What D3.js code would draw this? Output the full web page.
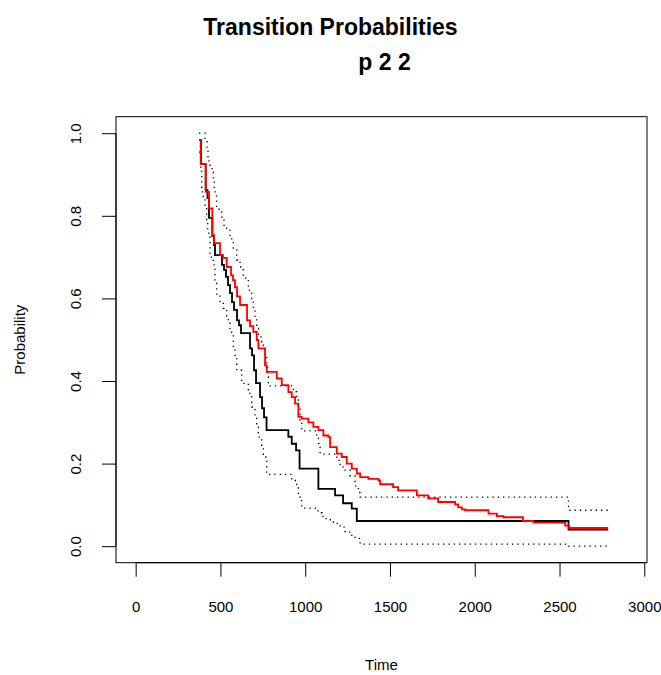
<!DOCTYPE html>
<html lang="en">
<head>
  <meta charset="UTF-8">
  <title>Transition Probabilities p 2 2</title>
  <style>
    body { margin: 0; background: #fff; }
    svg { font-family: "Liberation Sans", Arial, sans-serif; }
    .title { font-weight: bold; font-size: 23px; }
    .tick-label, .axis-title { font-size: 15px; }
  </style>
</head>
<body>
  <svg id="chart"></svg>

  <script src="https://d3js.org/d3.v7.min.js"></script>
  <script>
    // Aalen-Johansen style estimate (black), its CI (dotted), and comparison (red)
    const blackTime = [373.6, 385.4, 413.1, 423.7, 432.6, 452.1, 462.1, 468, 509.3, 521.1, 532.9, 544.7,
      556.5, 568.3, 580.1, 597.8, 609.6, 621.4, 674.6, 686.4, 698.2, 710, 733.6, 745.4, 757.2, 772,
      900.6, 920.7, 946.1, 966.7, 1077.7, 1176.2, 1223.4, 1274.8, 1304.3, 2553];
    const blackProb = [0.984, 0.926, 0.862, 0.843, 0.795, 0.751, 0.729, 0.705, 0.681, 0.669, 0.652, 0.632,
      0.613, 0.591, 0.572, 0.547, 0.535, 0.516, 0.479, 0.462, 0.426, 0.395, 0.361, 0.334, 0.312, 0.281,
      0.265, 0.248, 0.232, 0.188, 0.139, 0.123, 0.104, 0.091, 0.061, 0.040];

    const upperTime = [373.6, 409, 420.8, 426.7, 432.6, 438.5, 450.3, 458, 463.9, 477.1, 491.8, 507.5,
      521.1, 536.5, 556.5, 566.6, 576, 596.1, 615.6, 635, 664.5, 684.6, 694, 704, 714.1, 724.7, 743.6,
      753.1, 763.1, 773.1, 777.9, 782.6, 930, 950.2, 959.6, 969.7, 979.7, 1068.2, 1077.7, 1087.7,
      1186.3, 1205.7, 1223.4, 1264.7, 1294.2, 1313.7, 1323.8, 2553];
    const upperProb = [1.0, 0.984, 0.960, 0.943, 0.931, 0.918, 0.906, 0.887, 0.858, 0.821, 0.814, 0.797,
      0.773, 0.768, 0.749, 0.741, 0.722, 0.693, 0.676, 0.649, 0.620, 0.596, 0.576, 0.552, 0.528, 0.507,
      0.495, 0.486, 0.462, 0.438, 0.410, 0.388, 0.374, 0.354, 0.335, 0.306, 0.279, 0.265, 0.249, 0.223,
      0.208, 0.196, 0.184, 0.170, 0.146, 0.130, 0.119, 0.087];

    const lowerTime = [373.6, 383.6, 389.5, 398.9, 409, 419, 424.9, 438.5, 458, 468, 478, 497.5, 517,
      537.1, 546.5, 556.5, 576, 586, 596.1, 625.6, 664.5, 684.6, 704, 714.1, 723.6, 743.6, 753.1, 773.1,
      920.7, 950.2, 959.6, 979.7, 1075.9, 1099.5, 1123.1, 1166.2, 1205.7, 1235.2, 1274.8, 1294.2,
      1323.8, 2553];
    const lowerProb = [0.954, 0.916, 0.858, 0.846, 0.826, 0.790, 0.758, 0.700, 0.681, 0.637, 0.608, 0.591,
      0.576, 0.557, 0.540, 0.518, 0.482, 0.455, 0.426, 0.394, 0.370, 0.337, 0.313, 0.288, 0.264, 0.240,
      0.216, 0.174, 0.159, 0.142, 0.119, 0.092, 0.081, 0.072, 0.064, 0.055, 0.046, 0.034, 0.026, 0.019,
      0.005, 0.0];

    const redTime = [373.6, 383.6, 413.1, 432.6, 452.1, 462.1, 497.5, 515.2, 537.1, 562.4, 574.2, 586,
      597.9, 615.6, 656.9, 674.6, 694, 714.1, 723.6, 763.1, 773.1, 832.2, 861.7, 900.6, 920.7, 940.2,
      959.6, 979.7, 1018.6, 1048.2, 1077.7, 1107.2, 1136.7, 1146.7, 1186.3, 1215.8, 1245.3, 1274.8,
      1304.3, 1323.8, 1372.8, 1431.8, 1441.8, 1518.5, 1548.1, 1658.4, 1725.1, 1784.1, 1884.5, 1902.2,
      1924, 1943.5, 2081, 2130.6, 2169.5, 2284, 2346.6, 2533.6, 2557.2];
    const redProb = [0.984, 0.926, 0.858, 0.818, 0.753, 0.734, 0.705, 0.698, 0.676, 0.656, 0.644, 0.627,
      0.605, 0.584, 0.547, 0.533, 0.519, 0.499, 0.479, 0.438, 0.422, 0.406, 0.390, 0.373, 0.361, 0.345,
      0.313, 0.309, 0.300, 0.289, 0.281, 0.268, 0.264, 0.240, 0.224, 0.216, 0.200, 0.188, 0.176, 0.167,
      0.163, 0.159, 0.150, 0.143, 0.135, 0.123, 0.116, 0.107, 0.101, 0.094, 0.089, 0.087, 0.079, 0.073,
      0.070, 0.061, 0.057, 0.050, 0.044];

    const endTime = 2787;
    const xTicks = [0, 500, 1000, 1500, 2000, 2500, 3000];
    const yTicks = [0, 0.2, 0.4, 0.6, 0.8, 1.0];

    const W = 661, H = 675;
    const box = { left: 116, right: 647, top: 116.7, bottom: 562.7 };

    const svg = d3.select("#chart")
      .attr("width", W)
      .attr("height", H);

    const x = d3.scaleLinear()
      .domain([-116, 3016])
      .range([box.left, box.right]);

    const y = d3.scaleLinear()
      .domain([-0.04, 1.04])
      .range([box.bottom, box.top]);

    // titles
    svg.append("text").attr("class", "title")
      .attr("x", 330.5).attr("y", 35)
      .attr("text-anchor", "middle")
      .text("Transition Probabilities");
    svg.append("text").attr("class", "title")
      .attr("x", (box.left + box.right) / 2 + 3).attr("y", 70)
      .attr("text-anchor", "middle")
      .text("p 2 2");

    // plot frame
    svg.append("rect")
      .attr("x", box.left).attr("y", box.top)
      .attr("width", box.right - box.left)
      .attr("height", box.bottom - box.top)
      .attr("fill", "none").attr("stroke", "#000").attr("stroke-width", 1);

    // x axis
    const xAxis = svg.append("g")
      .attr("transform", `translate(0,${box.bottom})`)
      .call(d3.axisBottom(x).tickValues(xTicks).tickSize(14).tickPadding(25).tickFormat(d3.format("d")));
    xAxis.select(".domain").attr("d", `M${x(0)},0H${x(3000)}`);
    xAxis.selectAll("text").attr("class", "tick-label")
      .attr("font-family", null).attr("font-size", null).attr("fill", "#000");

    // y axis, labels rotated as in base R
    const yAxis = svg.append("g")
      .attr("transform", `translate(${box.left},0)`)
      .call(d3.axisLeft(y).tickValues(yTicks).tickSize(14).tickFormat(d3.format(".1f")));
    yAxis.select(".domain").attr("d", `M0,${y(0)}V${y(1)}`);
    yAxis.selectAll(".tick text")
      .attr("class", "tick-label")
      .attr("font-family", null).attr("font-size", null).attr("fill", "#000")
      .attr("x", null).attr("dy", null)
      .attr("text-anchor", "middle")
      .attr("transform", "translate(-41,0) rotate(-90)")
      .attr("dominant-baseline", "central");

    svg.append("text").attr("class", "axis-title")
      .attr("text-anchor", "middle")
      .attr("transform", `translate(25,${(box.top + box.bottom) / 2}) rotate(-90)`)
      .text("Probability");
    svg.append("text").attr("class", "axis-title")
      .attr("x", (box.left + box.right) / 2).attr("y", 670)
      .attr("text-anchor", "middle")
      .text("Time");

    const toSteps = (times, probs) => {
      const pts = times.map((t, i) => [t, probs[i]]);
      pts.push([endTime, probs[probs.length - 1]]);
      return pts;
    };

    const line = d3.line()
      .x(d => x(d[0]))
      .y(d => y(d[1]))
      .curve(d3.curveStepAfter);

    const g = svg.append("g");

    [[upperTime, upperProb], [lowerTime, lowerProb]].forEach(([t, p]) => {
      g.append("path")
        .attr("d", line(toSteps(t, p)))
        .attr("fill", "none")
        .attr("stroke", "#000")
        .attr("stroke-width", 1.3)
        .attr("stroke-dasharray", "1.3,4");
    });

    g.append("path")
      .attr("d", line(toSteps(blackTime, blackProb)))
      .attr("fill", "none")
      .attr("stroke", "#000")
      .attr("stroke-width", 1.8);

    g.append("path")
      .attr("d", line(toSteps(redTime, redProb)))
      .attr("fill", "none")
      .attr("stroke", "#ff0000")
      .attr("stroke-width", 1.8);
  </script>
</body>
</html>
